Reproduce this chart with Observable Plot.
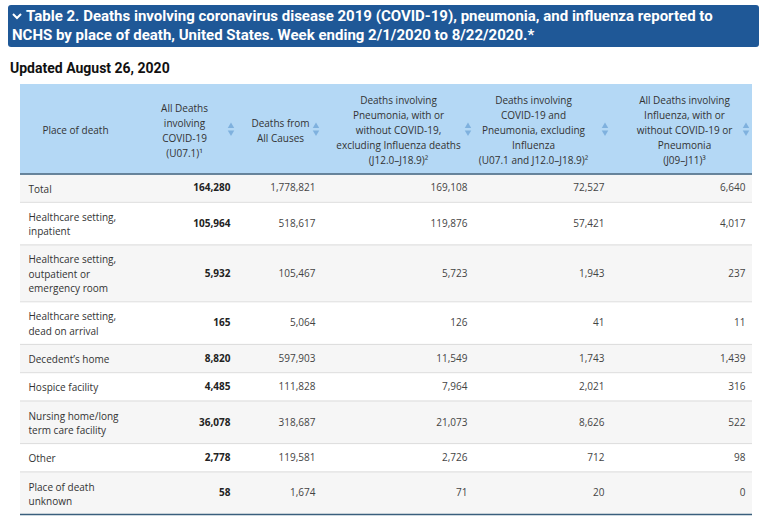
<!DOCTYPE html>
<html>
<head>
<meta charset="utf-8">
<script src="https://cdn.jsdelivr.net/npm/d3@7"></script>
<script src="https://cdn.jsdelivr.net/npm/@observablehq/plot@0.6"></script>
<style>
  html, body { margin: 0; padding: 0; background: #fff; width: 768px; height: 526px; overflow: hidden; }
  #title {
    position: absolute; left: 8px; top: 5px; width: 747px; height: 40px;
    background: #1f5897; border-radius: 3px; color: #fff;
    font-family: "Liberation Sans Narrow", Roboto, sans-serif; font-weight: 700;
    font-size: 15px; line-height: 19px; padding: 2px 0 0 4px; white-space: nowrap;
  }
  #title svg { vertical-align: 1px; margin-right: 4px; }
  #updated {
    position: absolute; left: 10px; top: 59px;
    font-family: "Liberation Sans Narrow", Roboto, sans-serif; font-weight: 700;
    font-size: 14px; line-height: 18px; color: #111; white-space: nowrap;
  }
  #table { position: absolute; left: 0; top: 84px; }
</style>
</head>
<body>
<div id="title"><svg width="10" height="7" viewBox="0 0 10 7"><polyline points="1,1 5,5 9,1" fill="none" stroke="#fff" stroke-width="2"/></svg>Table 2. Deaths involving coronavirus disease 2019 (COVID-19), pneumonia, and influenza reported to<br>NCHS by place of death, United States. Week ending 2/1/2020 to 8/22/2020.*</div>
<div id="updated">Updated August 26, 2020</div>
<div id="table"></div>
<script>
// ---- data ----
const headers = [
  "Place of death",
  "All Deaths\ninvolving\nCOVID-19\n(U07.1)¹",
  "Deaths from\nAll Causes",
  "Deaths involving\nPneumonia, with or\nwithout COVID-19,\nexcluding Influenza deaths\n(J12.0–J18.9)²",
  "Deaths involving\nCOVID-19 and\nPneumonia, excluding\nInfluenza\n(U07.1 and J12.0–J18.9)²",
  "All Deaths involving\nInfluenza, with or\nwithout COVID-19 or\nPneumonia\n(J09–J11)³"
];
const places = [
  "Total",
  "Healthcare setting,\ninpatient",
  "Healthcare setting,\noutpatient or\nemergency room",
  "Healthcare setting,\ndead on arrival",
  "Decedent’s home",
  "Hospice facility",
  "Nursing home/long\nterm care facility",
  "Other",
  "Place of death\nunknown"
];
const covidDeaths      = [164280, 105964, 5932, 165, 8820, 4485, 36078, 2778, 58];
const allCauseDeaths   = [1778821, 518617, 105467, 5064, 597903, 111828, 318687, 119581, 1674];
const pneumoniaDeaths  = [169108, 119876, 5723, 126, 11549, 7964, 21073, 2726, 71];
const covidPneumonia   = [72527, 57421, 1943, 41, 1743, 2021, 8626, 712, 20];
const influenzaDeaths  = [6640, 4017, 237, 11, 1439, 316, 522, 98, 0];

// ---- layout (table units, px-sized) ----
const tableWidth = 732;
const headerHeight = 89.5;
const rowPad = 14, rowLine = 14.3;
const headerCenters = [55, 164, 260, 378, 513, 664];
const valueRight = [210, 295, 447, 584, 725];
const placeLeft = 8;

const series = [covidDeaths, allCauseDeaths, pneumoniaDeaths, covidPneumonia, influenzaDeaths];

let acc = headerHeight;
const rows = places.map((p, i) => {
  const lines = p.split("\n").length;
  const h = rowPad + rowLine * lines;
  const r = {i, place: p, y0: acc, y1: acc + h, mid: acc + h / 2};
  acc += h;
  return r;
});
const tableHeight = acc;
const svgHeight = 442;

const fmt = d3.format(",");
const cells = [];
rows.forEach(r => series.forEach((s, c) => cells.push({x: valueRight[c], y: r.mid, text: fmt(s[r.i]), col: c})));

const headerData = headers.map((h, i) => ({x: headerCenters[i], y: headerHeight / 2, text: h}));
const icons = valueRight.map(x => ({x: x + 0.5, y: headerHeight / 2}));

const chart = Plot.plot({
  width: 768, height: svgHeight,
  marginLeft: 20, marginRight: 16, marginTop: 0, marginBottom: 0,
  x: {domain: [0, tableWidth], axis: null},
  y: {domain: [0, svgHeight], range: [0, svgHeight], axis: null},
  style: {fontFamily: "'Open Sans', sans-serif", fontSize: "10px", color: "#333", background: "transparent"},
  marks: [
    Plot.rect([{}], {x1: 0, x2: tableWidth, y1: 0, y2: headerHeight, fill: "#b4d8f5"}),
    Plot.rect(rows, {x1: 0, x2: tableWidth, y1: "y0", y2: "y1", fill: d => d.i % 2 === 0 ? "#f6f6f6" : "#ffffff"}),
    Plot.ruleY(rows.slice(1), {x1: 0, x2: tableWidth, y: "y0", stroke: "#dcdcdc", strokeWidth: 1}),
    Plot.ruleY([headerHeight, tableHeight], {x1: 0, x2: tableWidth, y: d => d, stroke: "#3a5f7d", strokeWidth: 1.6}),
    Plot.text(headerData, {x: "x", y: "y", text: "text", textAnchor: "middle", lineAnchor: "middle", lineHeight: 1.5, fill: "#333"}),
    Plot.dot(icons, {x: "x", y: d => d.y - 3, symbol: "triangle", r: 2.4, fill: "#7fb1de", stroke: null}),
    Plot.dot(icons, {x: "x", y: d => d.y + 3, symbol: "triangle", r: 2.4, rotate: 180, fill: "#7fb1de", stroke: null}),
    Plot.text(rows, {x: placeLeft, y: "mid", text: "place", textAnchor: "start", lineAnchor: "middle", lineHeight: 1.45, fill: "#333"}),
    Plot.text(cells.filter(d => d.col === 0), {x: "x", y: "y", text: "text", textAnchor: "end", fontWeight: "bold", fill: "#222"}),
    Plot.text(cells.filter(d => d.col > 0), {x: "x", y: "y", text: "text", textAnchor: "end", fill: "#444"})
  ]
});
document.getElementById("table").appendChild(chart);
</script>
</body>
</html>
